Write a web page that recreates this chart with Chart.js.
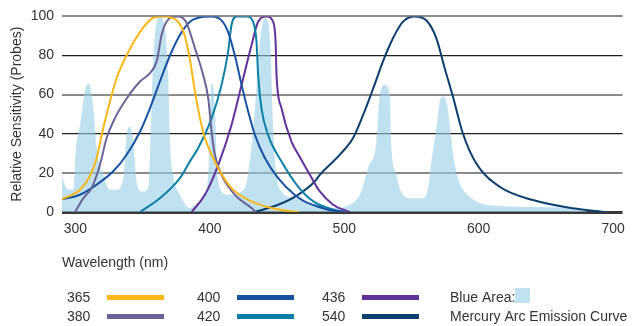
<!DOCTYPE html>
<html>
<head>
<meta charset="utf-8">
<script src="https://cdn.jsdelivr.net/npm/chart.js@4.4.1/dist/chart.umd.min.js"></script>
<style>
  html, body { margin: 0; padding: 0; background: #fff; }
  #chart { display: block; }
</style>
</head>
<body>
<canvas id="chart" width="634" height="326"></canvas>
<script>
// wavelength (nm) / relative sensitivity
const wl365 = [290, 303.4, 310.8, 315.8, 319.5, 324.4, 330.6, 338, 348, 357.9, 365.3, 375.3, 381.4, 385, 388.9, 392.6, 396.3, 401.3, 406.2, 416.1, 431, 445.9, 460.7, 466];
const val365 = [6.5, 11.4, 18.4, 27.6, 39.4, 53, 68.4, 80, 92, 99.3, 100, 98, 90, 78.6, 61.6, 48, 37.8, 29.3, 22.4, 12.2, 5.4, 2, 0.3, 0];

const wl380 = [299.7, 305.8, 312, 318.2, 323.2, 329.4, 338.1, 348, 355.4, 360.4, 364.1, 367.8, 375.3, 382, 388.9, 395, 398.8, 401.3, 403.7, 408.7, 418.6, 431, 434];
const val380 = [0, 7, 12.2, 24, 37.8, 48, 58, 66.7, 71, 77, 90.5, 97.3, 100, 97.5, 83.7, 70, 58, 41, 29.3, 19, 8.8, 2, 0];

const wl400 = [290, 303.4, 315.8, 328.1, 338.1, 348, 355.4, 362.8, 370.3, 377.7, 385.1, 391.3, 401.3, 408.7, 413.6, 418.6, 423.6, 428.5, 433.5, 440.9, 450.8, 463, 470, 478, 488, 500];
const val400 = [6.5, 8.8, 14, 20.8, 29.3, 41, 53, 66.7, 80, 90.5, 97.3, 99.3, 100, 98, 92, 80, 65, 51.4, 39.4, 27.6, 17.3, 8.8, 5.5, 3.3, 1.2, 0];

const wl420 = [348, 362.8, 377.7, 385.1, 391.3, 401.3, 408.7, 413.6, 416.1, 419.9, 427.3, 432.2, 434.7, 435.9, 438.4, 443.3, 453.3, 465.6, 477, 491.7, 500];
const val420 = [0, 7, 17.3, 25.8, 32.7, 48, 65, 82, 95.6, 100, 100, 97.3, 87, 70, 53, 39.4, 25.8, 13, 5.4, 1.2, 0];

const wl436 = [386.4, 396.3, 406.2, 416.1, 423.6, 431, 435.9, 442.2, 447, 448.9, 449.6, 453.3, 460.7, 467, 474.4, 481.8, 491.7, 504];
const val436 = [0, 8.8, 24, 44.5, 65, 85.4, 97.3, 100, 97.3, 87, 70, 53, 36, 28, 19, 10.5, 3.7, 0];

const wl540 = [433.5, 450.8, 465.6, 478, 481.8, 496.7, 506.5, 514, 521.4, 528.8, 536.2, 543.7, 552.4, 561, 568.5, 574.7, 580.9, 588.3, 598.2, 615.6, 640.3, 670, 695];
const val540 = [0, 3.7, 8.8, 15.6, 19, 29.3, 37.8, 49.6, 63, 77, 88.8, 97.3, 100, 98, 88.8, 73.5, 58.8, 40, 24.8, 12.9, 6.1, 1.9, 0];

// mercury arc emission (blue area)
const wlHg = [290, 293.5, 298.4, 300.4, 303.4, 308.4, 310.3, 313.3, 315.8, 320.7, 325.7, 330.6, 335.6, 338.1, 340.5, 343, 345.5, 349.2, 354.2, 355.4,
  357.4, 360.4, 362.8, 366.6, 369, 370.3, 372.7, 377.7, 385.1, 388.9, 395, 398.8, 400.8, 402, 403.7, 405, 407.4, 413.6, 426, 429.7,
  433.5, 437.2, 440.9, 443.4, 445.4, 447, 449.6, 453.3, 463.2, 478, 491.7, 504, 511.5, 517.7, 523.9, 526.4, 530.1, 533.8, 535.1, 538.8,
  541.2, 548.7, 558.6, 562.3, 564.8, 568.5, 571, 573.4, 576.5, 579.5, 582, 585.7, 593, 600.6, 620, 645, 665, 682];
const valHg = [18.4, 12.2, 11.4, 32.7, 44.5, 65, 65.3, 53, 32.7, 19, 11.4, 11.4, 17.3, 39.4, 43.7, 36, 15.6, 10.5, 12.2, 27.6,
  70, 97.3, 100, 93.9, 70, 36, 19, 8.8, 2, 3.7, 7, 20, 63, 65.8, 53, 27.6, 12.2, 8.8, 12.2, 25.8,
  53, 87, 99, 97.3, 78.6, 44.5, 19, 10.5, 7, 3.7, 2, 3.7, 8.8, 22.4, 36, 60, 65, 60, 32.7, 19,
  12.2, 7, 7, 12.2, 25.8, 42.9, 56.5, 59, 55, 38, 25, 15, 8, 4.6, 3, 2.5, 2, 0];

const seriesLabels = ['365', '380', '400', '420', '436', '540'];
const seriesColors = ['#fbb715', '#6b6397', '#1652a1', '#0b7fa6', '#62329a', '#0a3f6e'];
const areaLabels = ['Blue Area:', 'Mercury Arc Emission Curve'];
const xTicks = [300, 400, 500, 600, 700];

const FONT = '"Liberation Sans", Arial, sans-serif';

function pairs(xs, ys) {
    return xs.map((x, i) => ({x: x, y: ys[i]}));
}

const curves = [
    pairs(wl365, val365), pairs(wl380, val380), pairs(wl400, val400),
    pairs(wl420, val420), pairs(wl436, val436), pairs(wl540, val540)
];

let datasets = curves.map((pts, i) => ({
    label: seriesLabels[i],
    data: pts,
    borderColor: seriesColors[i],
    borderWidth: 2,
    pointRadius: 0,
    fill: false,
    cubicInterpolationMode: 'monotone'
}));

datasets.push({
    label: areaLabels[0],
    data: pairs(wlHg, valHg),
    borderWidth: 0,
    borderColor: 'rgba(0,0,0,0)',
    backgroundColor: 'rgba(150,205,230,0.6)',
    pointRadius: 0,
    fill: 'origin',
    cubicInterpolationMode: 'monotone',
    order: 10
});

// legend under the axis: number, then a line sample
const bottomLegend = {
    id: 'bottomLegend',
    afterDraw(chart) {
        const ctx = chart.ctx;
        const colX = [67, 197, 322];
        const rowY = [298, 317];
        ctx.save();
        ctx.font = '14px ' + FONT;
        ctx.fillStyle = '#333';
        ctx.textBaseline = 'middle';
        ctx.textAlign = 'left';
        chart.data.datasets.forEach((ds, i) => {
            if (ds.fill) return;
            let x = colX[Math.floor(i / 2)];
            let y = rowY[i % 2];
            ctx.fillText(ds.label, x, y);
            ctx.fillStyle = ds.borderColor;
            ctx.fillRect(x + 40, y - 3, 57, 5);
            ctx.fillStyle = '#333';
        });
        ctx.fillText(areaLabels[0], 450, rowY[0]);
        ctx.fillText(areaLabels[1], 450, rowY[1]);
        ctx.fillStyle = '#c0e1f0';
        ctx.fillRect(515, 288, 15, 15);
        ctx.restore();
    }
};

new Chart(document.getElementById('chart').getContext('2d'), {
    type: 'line',
    data: {datasets: datasets},
    options: {
        responsive: false,
        animation: false,
        layout: {padding: {left: 9, right: 11, top: 16, bottom: 54}},
        plugins: {legend: {display: false}, tooltip: {enabled: false}},
        scales: {
            x: {
                type: 'linear',
                min: 290,
                max: 707,
                afterBuildTicks: s => { s.ticks = xTicks.map(v => ({value: v})); },
                afterFit: s => { s.height = 60; },
                grid: {display: false, drawTicks: false},
                border: {display: false},
                ticks: {color: '#333', font: {family: FONT, size: 14}, padding: 9, maxRotation: 0},
                title: {display: true, text: 'Wavelength (nm)', align: 'start', color: '#333',
                        font: {family: FONT, size: 14}, padding: {top: 0, bottom: 0}}
            },
            y: {
                min: 0,
                max: 100,
                afterFit: s => { s.width = 53; },
                grid: {
                    drawTicks: false,
                    color: c => c.tick.value === 0 ? '#3a3a3a' : ((c.tick.value / 20) % 2 ? '#8a8a8a' : '#1e1e1e'),
                    lineWidth: c => c.tick.value === 0 ? 3 : ((c.tick.value / 20) % 2 ? 2 : 1.2)
                },
                border: {display: false},
                ticks: {stepSize: 20, color: '#333', font: {family: FONT, size: 14}, padding: 8},
                title: {display: true, text: 'Relative Sensitivity (Probes)', color: '#333',
                        font: {family: FONT, size: 14}, padding: {top: 0, bottom: 0}}
            }
        }
    },
    plugins: [bottomLegend]
});
</script>
</body>
</html>
